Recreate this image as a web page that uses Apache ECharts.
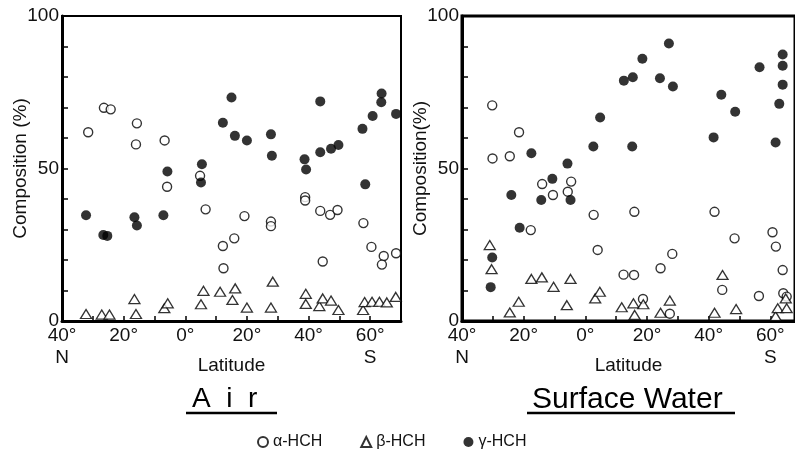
<!DOCTYPE html>
<html>
<head>
<meta charset="utf-8">
<script src="https://cdn.jsdelivr.net/npm/echarts@6/dist/echarts.min.js"></script>
<style>
  html, body { margin: 0; padding: 0; background: #fff; }
  #chart { width: 795px; height: 450px; }
</style>
</head>
<body>
<div id="chart"></div>
<script>
// Latitude: N negative, S positive. Values are composition (%).
const airAlpha = [
  [-31.5, 61.9], [-26.4, 69.9], [-24.2, 69.4], [-15.7, 64.8], [-16, 57.9], [-6.7, 59.2],
  [-5.9, 44.0], [4.8, 47.6], [6.6, 36.6], [12.2, 24.6], [15.9, 27.1], [12.4, 17.3],
  [19.2, 34.4], [27.8, 32.6], [27.8, 31.1], [38.9, 40.6], [38.9, 39.5], [43.8, 36.1],
  [47, 34.8], [49.4, 36.4], [44.6, 19.5], [57.8, 32.1], [60.4, 24.3], [64.4, 21.3],
  [63.8, 18.5], [68.4, 22.2],
];
const airBeta = [
  [-32.2, 2.3], [-27.1, 2.1], [-24.6, 2.1], [-16.5, 7.2], [-16, 2.3], [-6.8, 4.2],
  [-5.7, 5.8], [5.1, 5.5], [5.9, 9.9], [11.3, 9.6], [16.2, 10.7], [15.3, 6.9],
  [20.0, 4.4], [27.8, 4.4], [28.4, 12.9], [39.1, 8.9], [39.1, 5.6], [43.5, 4.9],
  [44.6, 7.4], [47.3, 6.7], [49.7, 3.6], [57.7, 3.6], [58.2, 6.2], [60.6, 6.3],
  [63.0, 6.3], [65.4, 6.1], [68.3, 7.9],
];
const airGamma = [
  [-32.2, 34.7], [-26.6, 28.2], [-25.3, 27.9], [-16.5, 34.0], [-15.7, 31.3], [-7.1, 34.7],
  [-5.8, 49.0], [5.4, 51.4], [5.1, 45.4], [12.2, 65.0], [15.0, 73.3], [16.1, 60.7],
  [20.0, 59.2], [27.8, 61.2], [28.1, 54.2], [38.7, 53.0], [39.2, 49.7], [43.8, 72.0],
  [43.8, 55.3], [47.3, 56.5], [49.7, 57.7], [57.5, 63.0], [58.4, 44.8], [60.8, 67.2],
  [63.7, 74.6], [63.6, 71.7], [68.4, 67.9],
];

const waterAlpha = [
  [-30.2, 70.7], [-30.1, 53.3], [-24.5, 54.0], [-21.5, 61.9], [-14.0, 44.9], [-10.5, 41.3],
  [-4.6, 45.7], [-5.7, 42.4], [-17.7, 29.8], [2.7, 34.8], [4.0, 23.3], [15.9, 35.8],
  [12.4, 15.2], [15.8, 15.1], [28.2, 22.0], [24.4, 17.3], [18.7, 7.2], [27.4, 2.4],
  [41.9, 35.8], [48.4, 27.1], [44.4, 10.2], [60.7, 29.1], [61.8, 24.4], [64.0, 16.7],
  [56.3, 8.2], [64.2, 9.1], [65.3, 8.0],
];
const waterBeta = [
  [-31.0, 24.9], [-30.4, 17.0], [-24.5, 2.8], [-21.6, 6.3], [-17.5, 13.8], [-14.1, 14.3],
  [-10.3, 11.2], [-6.0, 5.2], [-4.8, 13.8], [3.2, 7.4], [4.7, 9.6], [11.8, 4.5],
  [15.6, 5.8], [16.0, 2.0], [18.8, 5.5], [24.4, 2.7], [27.4, 6.7], [41.9, 2.7],
  [44.5, 15.1], [48.9, 3.9], [61.7, 1.6], [62.4, 4.2], [65.0, 7.4], [65.3, 4.2],
];
const waterGamma = [
  [-30.7, 11.1], [-30.2, 20.8], [-24.0, 41.3], [-21.3, 30.6], [-17.5, 55.0], [-14.3, 39.7],
  [-10.7, 46.6], [-5.8, 51.6], [-4.8, 39.7], [2.6, 57.2], [4.8, 66.7], [12.5, 78.8],
  [15.4, 79.9], [15.2, 57.2], [18.5, 86.0], [24.2, 79.6], [27.1, 91.0], [28.4, 76.9],
  [41.6, 60.2], [44.1, 74.2], [48.6, 68.6], [56.5, 83.2], [61.7, 58.5], [62.9, 71.2],
  [64.0, 87.4], [64.0, 83.7], [64.0, 77.5],
];

const seriesNames = ["α-HCH", "β-HCH", "γ-HCH"];
const panelTitles = ["A  i  r", "Surface Water"];
const yNames = ["Composition (%)", "Composition(%)"];

const FONT = "Liberation Sans";

function latLabel(v) {
  if (v % 20 !== 0 || v > 60) return "";
  let s = Math.abs(v) + "°";
  if (v === -40) s += "\nN";
  if (v === 60) s += "\nS";
  return s;
}

function makeXAxis(gridIndex, max) {
  return {
    gridIndex,
    type: "value",
    min: -40,
    max,
    interval: 10,
    name: "Latitude",
    nameLocation: "middle",
    nameGap: 35,
    nameMoveOverlap: false,
    nameTextStyle: { fontFamily: FONT, fontSize: 19, color: "#111" },
    axisLine: { onZero: false, lineStyle: { color: "#000", width: 3 } },
    axisTick: { inside: true, length: 5, lineStyle: { color: "#000", width: 1.5 } },
    axisLabel: {
      formatter: latLabel,
      fontFamily: FONT,
      fontSize: 19,
      lineHeight: 22,
      color: "#111",
      margin: 4,
      showMaxLabel: false,
    },
    splitLine: { show: false },
  };
}

function makeYAxis(gridIndex, name) {
  return {
    gridIndex,
    type: "value",
    min: 0,
    max: 100,
    interval: 10,
    name,
    nameLocation: "middle",
    nameGap: 32,
    nameMoveOverlap: false,
    nameTextStyle: { fontFamily: FONT, fontSize: 19, color: "#111" },
    axisLine: { onZero: false, lineStyle: { color: "#000", width: 3 } },
    axisTick: { inside: true, length: 6, lineStyle: { color: "#000", width: 1.5 } },
    axisLabel: {
      formatter: (v) => (v % 50 === 0 ? String(v) : ""),
      fontFamily: FONT,
      fontSize: 19,
      color: "#111",
      margin: 3,
    },
    splitLine: { show: false },
  };
}

function scatter(name, idx, data, kind) {
  const base = {
    name,
    type: "scatter",
    xAxisIndex: idx,
    yAxisIndex: idx,
    data,
    clip: false,
  };
  if (kind === "open") {
    return { ...base, symbol: "circle", symbolSize: 9,
      itemStyle: { color: "#fff", borderColor: "#000", borderWidth: 1.4 } };
  }
  if (kind === "tri") {
    return { ...base, symbol: "triangle", symbolSize: [11, 9],
      itemStyle: { color: "#fff", borderColor: "#000", borderWidth: 1.3 } };
  }
  return { ...base, symbol: "circle", symbolSize: 10,
    itemStyle: { color: "#000", borderColor: "#000", borderWidth: 0 } };
}

const option = {
  animation: false,
  backgroundColor: "#fff",
  grid: [
    { left: 62, top: 16, width: 339, height: 305, show: true, borderColor: "#000", borderWidth: 2 },
    { left: 462, top: 16, width: 336, height: 305, show: true, borderColor: "#000", borderWidth: 3 },
  ],
  xAxis: [makeXAxis(0, 70), makeXAxis(1, 68)],
  yAxis: [makeYAxis(0, yNames[0]), makeYAxis(1, yNames[1])],
  legend: {
    left: 252,
    top: 429,
    itemGap: 38,
    itemWidth: 10,
    itemHeight: 10,
    textStyle: { fontFamily: FONT, fontSize: 16, color: "#111" },
    data: seriesNames,
  },
  graphic: [
    { type: "text", left: 192, top: 385,
      style: { text: panelTitles[0], font: "28px '" + FONT + "'", fill: "#000" } },
    { type: "text", left: 532, top: 385,
      style: { text: panelTitles[1], font: "30px '" + FONT + "'", fill: "#000" } },
    { type: "line", shape: { x1: 186, y1: 413, x2: 277, y2: 413 },
      style: { stroke: "#000", lineWidth: 2.5 } },
    { type: "line", shape: { x1: 527, y1: 413, x2: 735, y2: 413 },
      style: { stroke: "#000", lineWidth: 2.5 } },
  ],
  series: [
    scatter(seriesNames[0], 0, airAlpha, "open"),
    scatter(seriesNames[1], 0, airBeta, "tri"),
    scatter(seriesNames[2], 0, airGamma, "filled"),
    scatter(seriesNames[0], 1, waterAlpha, "open"),
    scatter(seriesNames[1], 1, waterBeta, "tri"),
    scatter(seriesNames[2], 1, waterGamma, "filled"),
  ],
};

const chart = echarts.init(document.getElementById("chart"));
chart.setOption(option);
</script>
</body>
</html>
